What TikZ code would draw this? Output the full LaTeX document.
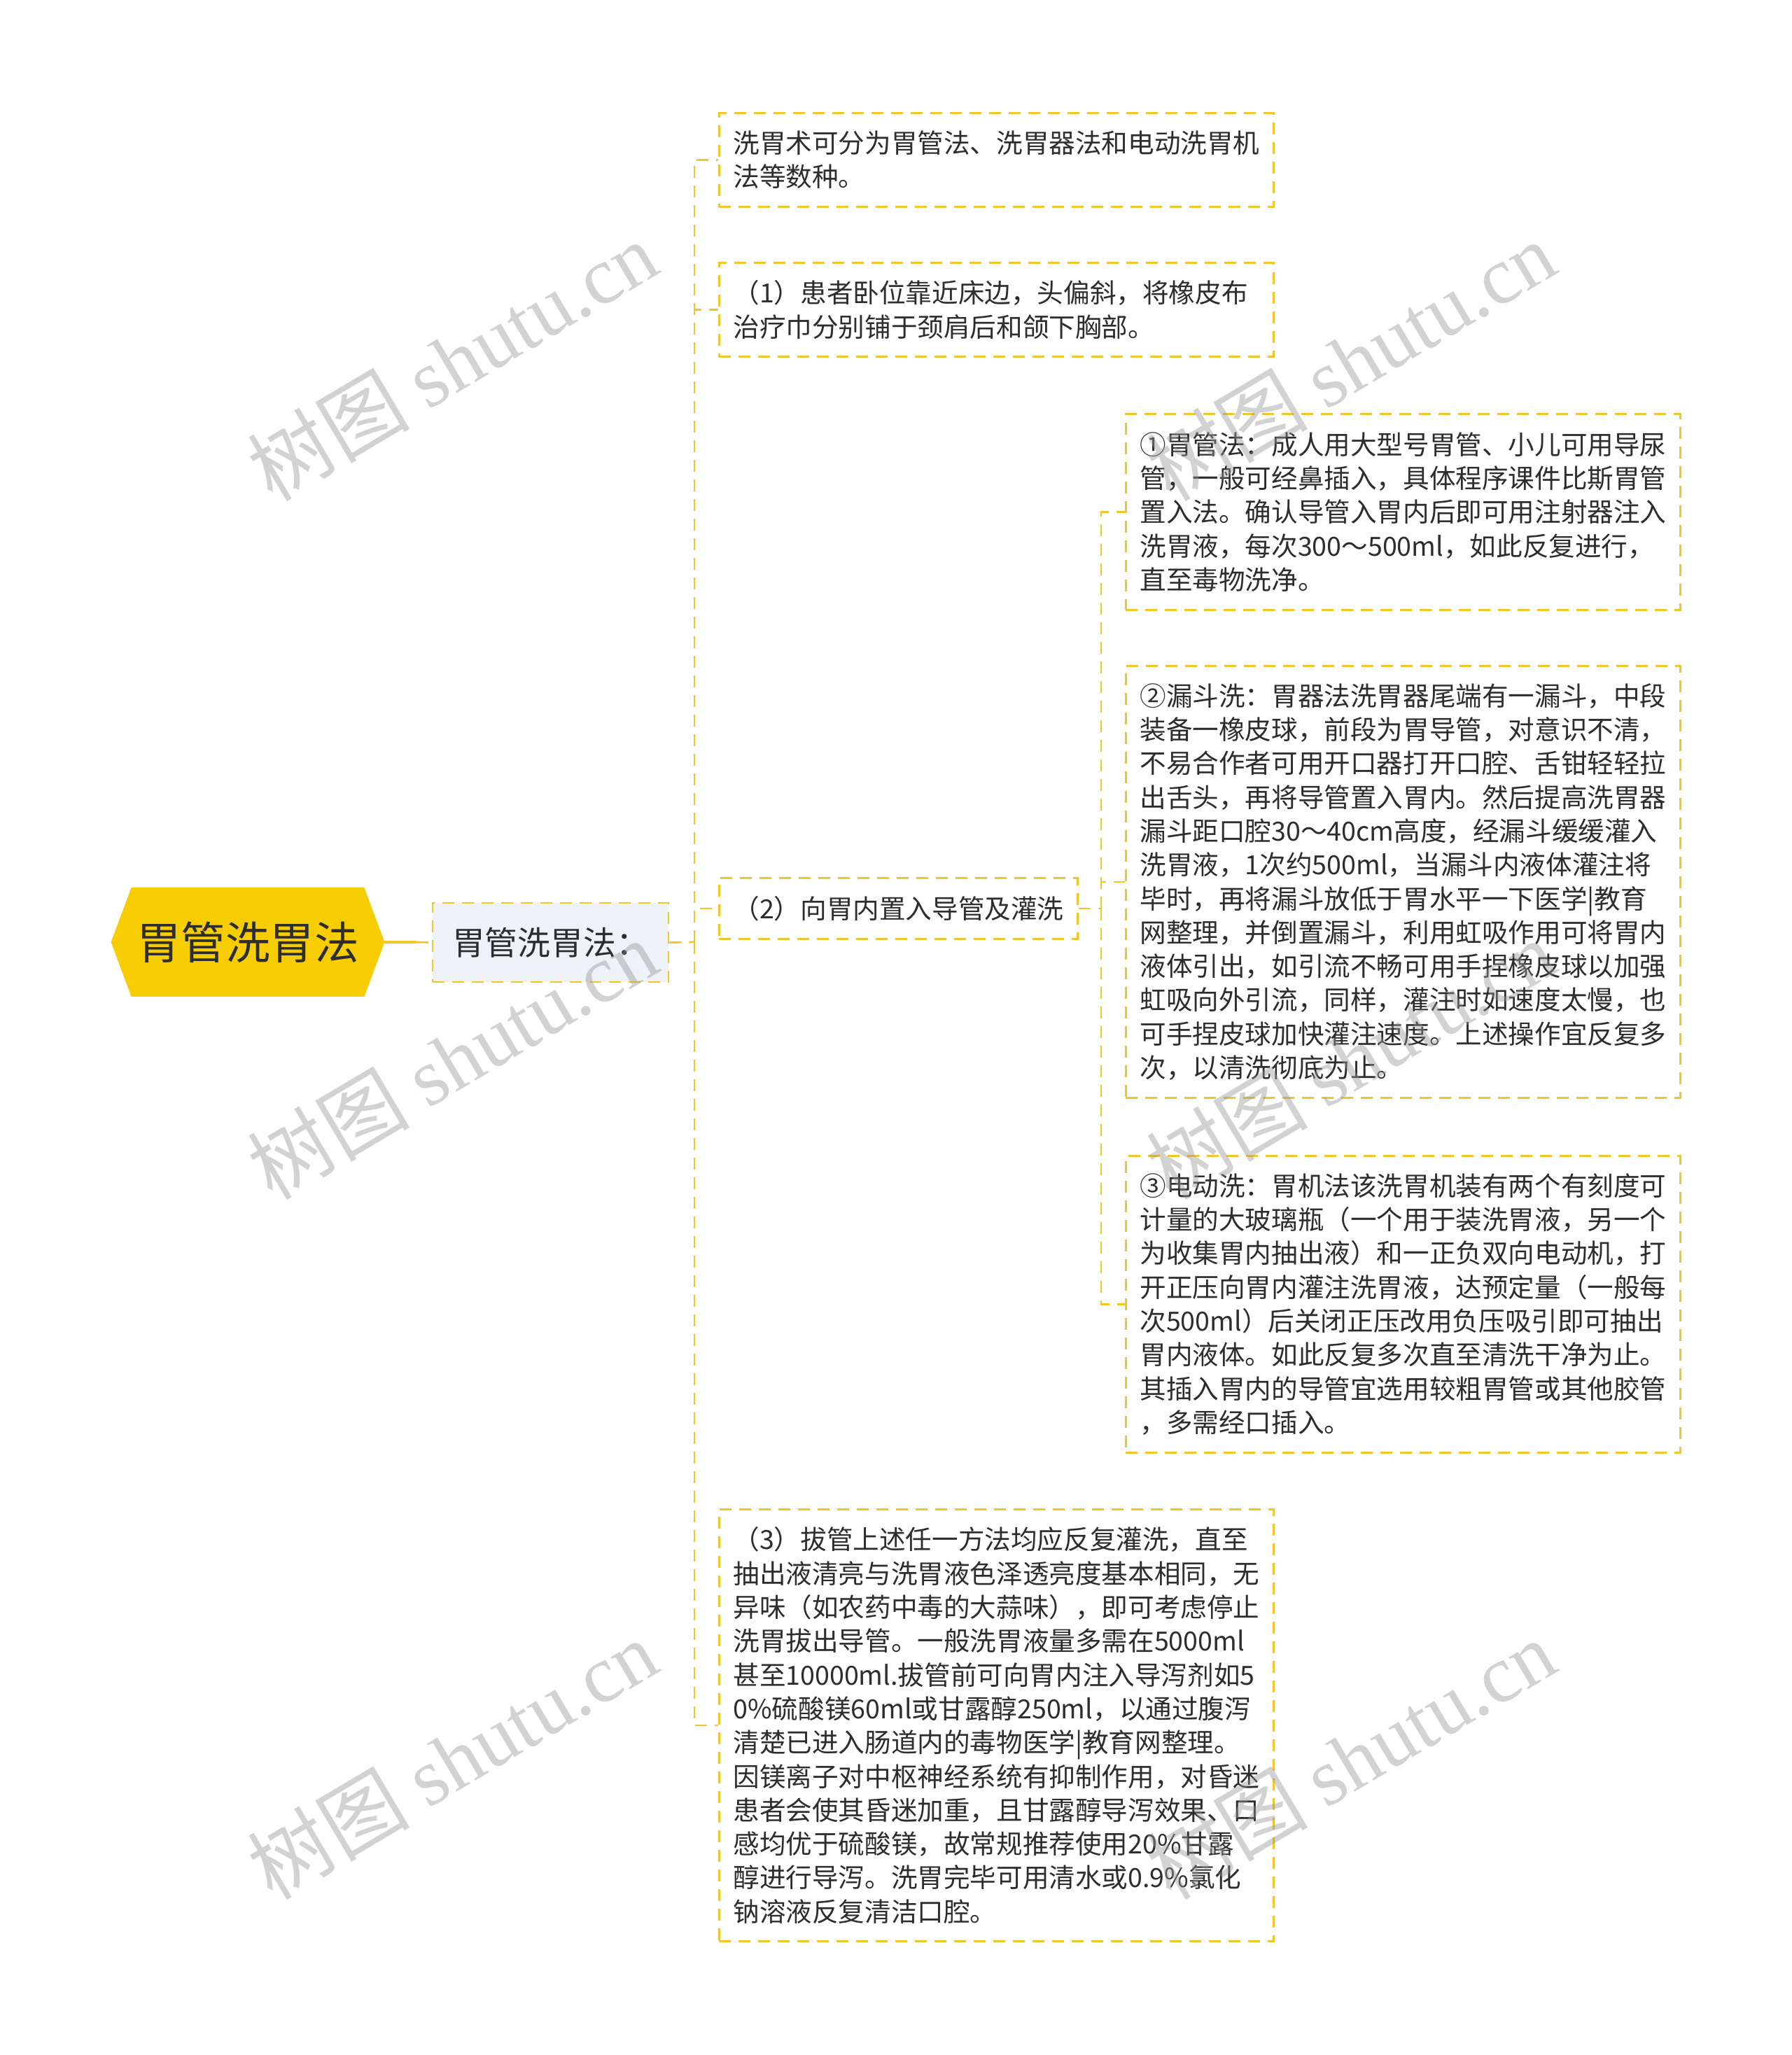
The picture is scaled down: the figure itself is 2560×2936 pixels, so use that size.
\documentclass[tikz,border=0pt]{standalone}
\usepackage{fontspec}
\setmainfont{Noto Sans CJK SC}
\newfontfamily\wmlatin{Liberation Serif}
\newfontfamily\wmcjk{Noto Sans CJK SC}
\usetikzlibrary{backgrounds}
\definecolor{ylw}{RGB}{240,198,40}
\definecolor{rootfill}{RGB}{245,205,0}
\definecolor{subfill}{RGB}{238,241,245}
\definecolor{txt}{RGB}{45,45,45}
\definecolor{wm}{RGB}{150,150,150}
\begin{document}
\begin{tikzpicture}[x=0.5pt,y=-0.5pt,
  dashbox/.style={draw=ylw, line width=1.4pt, dash pattern=on 8.5pt off 5.5pt, fill=white, text=txt, inner xsep=10pt, inner ysep=4pt, align=left},
  body/.style={dashbox, anchor=west, text width=376pt, font=\fontsize{18.8pt}{24.15pt}\selectfont},
  conn/.style={draw=ylw, line width=1.4pt, dash pattern=on 8.5pt off 5.5pt},
  wmark/.style={text=wm, opacity=0.42, rotate=30.7, font=\fontsize{58pt}{58pt}\selectfont}
]
\useasboundingbox (0,0) rectangle (2560,2936);

% root
\node[text=txt, minimum width=195pt, minimum height=77.5pt, inner sep=0pt,
      font=\fontsize{31.8pt}{32pt}\selectfont] (root) at (354,1346) {胃管洗胃法};
\begin{scope}[on background layer]
\fill[white] (0,0) rectangle (2560,2936);
\fill[rootfill] (root.west) -- ([xshift=14.5pt]root.north west) -- ([xshift=-14.5pt]root.north east)
  -- (root.east) -- ([xshift=-14.5pt]root.south east) -- ([xshift=14.5pt]root.south west) -- cycle;
\end{scope}

% level 1
\node[dashbox, fill=subfill, minimum width=168.5pt, minimum height=56.5pt, inner xsep=0pt,
      font=\fontsize{23.4pt}{24pt}\selectfont] (sub) at (786.5,1346.5) {胃管洗胃法：};

% level 2
\node[body, minimum height=67.3pt] (c1) at (1026,228.5)
 {洗胃术可分为胃管法、洗胃器法和电动洗胃机\\法等数种。};
\node[body, minimum height=67.3pt] (c2) at (1026,442.5)
 {（1）患者卧位靠近床边，头偏斜，将橡皮布\\治疗巾分别铺于颈肩后和颌下胸部。};
\node[dashbox, anchor=west, minimum height=43.15pt, font=\fontsize{18.8pt}{24.15pt}\selectfont] (c3) at (1026,1298)
 {（2）向胃内置入导管及灌洗};
\node[body, minimum height=308.8pt] (c4) at (1026,2465)
 {（3）拔管上述任一方法均应反复灌洗，直至\\
  抽出液清亮与洗胃液色泽透亮度基本相同，无\\
  异味（如农药中毒的大蒜味），即可考虑停止\\
  洗胃拔出导管。一般洗胃液量多需在5000ml\\
  甚至10000ml.拔管前可向胃内注入导泻剂如5\\
  0\%硫酸镁60ml或甘露醇250ml，以通过腹泻\\
  清楚已进入肠道内的毒物医学|教育网整理。\\
  因镁离子对中枢神经系统有抑制作用，对昏迷\\
  患者会使其昏迷加重，且甘露醇导泻效果、口\\
  感均优于硫酸镁，故常规推荐使用20\%甘露\\
  醇进行导泻。洗胃完毕可用清水或0.9\%氯化\\
  钠溶液反复清洁口腔。};

% level 3
\node[body, minimum height=139.75pt] (g1) at (1607,731.5)
 {①胃管法：成人用大型号胃管、小儿可用导尿\\
  管，一般可经鼻插入，具体程序课件比斯胃管\\
  置入法。确认导管入胃内后即可用注射器注入\\
  洗胃液，每次300～500ml，如此反复进行，\\
  直至毒物洗净。};
\node[body, minimum height=308.8pt] (g2) at (1607,1260)
 {②漏斗洗：胃器法洗胃器尾端有一漏斗，中段\\
  装备一橡皮球，前段为胃导管，对意识不清，\\
  不易合作者可用开口器打开口腔、舌钳轻轻拉\\
  出舌头，再将导管置入胃内。然后提高洗胃器\\
  漏斗距口腔30～40cm高度，经漏斗缓缓灌入\\
  洗胃液，1次约500ml，当漏斗内液体灌注将\\
  毕时，再将漏斗放低于胃水平一下医学|教育\\
  网整理，并倒置漏斗，利用虹吸作用可将胃内\\
  液体引出，如引流不畅可用手捏橡皮球以加强\\
  虹吸向外引流，同样，灌注时如速度太慢，也\\
  可手捏皮球加快灌注速度。上述操作宜反复多\\
  次，以清洗彻底为止。};
\node[body, minimum height=212.2pt] (g3) at (1607,1863.5)
 {③电动洗：胃机法该洗胃机装有两个有刻度可\\
  计量的大玻璃瓶（一个用于装洗胃液，另一个\\
  为收集胃内抽出液）和一正负双向电动机，打\\
  开正压向胃内灌注洗胃液，达预定量（一般每\\
  次500ml）后关闭正压改用负压吸引即可抽出\\
  胃内液体。如此反复多次直至清洗干净为止。\\
  其插入胃内的导管宜选用较粗胃管或其他胶管\\
  ，多需经口插入。};

% connectors
\coordinate (rs) at (595,1346);
\draw[ylw, line width=2.2pt] (root.east) -- (rs);
\draw[conn] (rs) -- (sub.west);
\coordinate (j1) at (992,1346);
\draw[conn] (sub.east) -- (j1);
\foreach \n in {c1,c2,c3,c4} \draw[conn] (j1) |- (\n.west);
\coordinate (j2) at (1573,1298);
\draw[conn] (c3.east) -- (j2);
\foreach \n in {g1,g2,g3} \draw[conn] (j2) |- (\n.west);

% watermarks
\node[wmark] (w1) at (646,515) {\wmcjk 树图\ \wmlatin shutu.cn};
\node[wmark] (w2) at (646,1513) {\wmcjk 树图\ \wmlatin shutu.cn};
\node[wmark] (w3) at (646,2513) {\wmcjk 树图\ \wmlatin shutu.cn};
\node[wmark] (w4) at (1929,515) {\wmcjk 树图\ \wmlatin shutu.cn};
\node[wmark] (w5) at (1929,1513) {\wmcjk 树图\ \wmlatin shutu.cn};
\node[wmark] (w6) at (1929,2513) {\wmcjk 树图\ \wmlatin shutu.cn};
\end{tikzpicture}
\end{document}
